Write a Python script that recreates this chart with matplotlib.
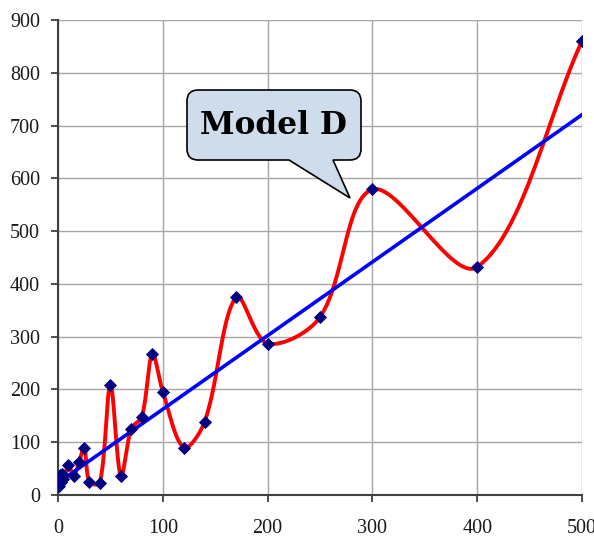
import numpy as np
import matplotlib
matplotlib.use("Agg")
import matplotlib.pyplot as plt
from matplotlib.path import Path
from matplotlib.patches import PathPatch

# measured points
x_vals = [1, 2, 3, 4, 5, 10, 15, 20, 25, 30, 40, 50, 60, 70, 80, 90, 100,
          120, 140, 170, 200, 250, 300, 400, 500]
y_vals = [18, 38, 25, 40, 30, 56, 36, 62, 90, 25, 23, 208, 36, 126, 148, 267, 196,
          90, 139, 375, 287, 337, 579, 432, 860]

# linear trend y = a*x + b
trend_slope = 1.395
trend_intercept = 23

x_ticks = [0, 100, 200, 300, 400, 500]
y_ticks = [0, 100, 200, 300, 400, 500, 600, 700, 800, 900]
callout_text = "Model D"

W, H = 594, 539
fig = plt.figure(figsize=(W / 100, H / 100), dpi=100)
ax = fig.add_axes([58 / W, 1 - 495 / H, 524 / W, 475 / H])
ax.set_xlim(0, 500)
ax.set_ylim(0, 900)


def smooth_curve(xs, ys, sx, sy, n=30):
    # bezier smoothing with tangents weighted by neighbouring segment lengths,
    # done in screen-like units so the shape does not depend on axis ranges
    p = np.column_stack([np.asarray(xs, float) * sx, np.asarray(ys, float) * sy])
    pts = np.vstack([p[0], p, p[-1]])
    out = []
    t = np.linspace(0, 1, n)[:, None]
    for i in range(1, len(pts) - 2):
        p0, p1, p2, p3 = pts[i - 1], pts[i], pts[i + 1], pts[i + 2]
        d01 = np.hypot(*(p1 - p0))
        d12 = np.hypot(*(p2 - p1))
        d23 = np.hypot(*(p3 - p2))
        k1 = d12 / (d01 + d12) / 3 if d01 + d12 > 0 else 0
        k2 = d12 / (d12 + d23) / 3 if d12 + d23 > 0 else 0
        c1 = p1 + (p2 - p0) * k1
        c2 = p2 - (p3 - p1) * k2
        seg = ((1 - t) ** 3) * p1 + 3 * ((1 - t) ** 2) * t * c1 \
            + 3 * (1 - t) * t ** 2 * c2 + t ** 3 * p2
        out.append(seg if i == 1 else seg[1:])
    out = np.vstack(out)
    return out[:, 0] / sx, out[:, 1] / sy


sx, sy = 524 / 500, 475 / 900
cx, cy = smooth_curve(x_vals, y_vals, sx, sy)
ax.plot(cx, cy, color="#FF0000", lw=2.8, zorder=3, solid_capstyle="round")

tx = np.array([x_vals[0], x_vals[-1]])
ax.plot(tx, trend_slope * tx + trend_intercept, color="#0000FF", lw=2.6, zorder=4)

ax.plot(x_vals, y_vals, linestyle="none", marker="D", markersize=6.0,
        color="#000080", markeredgecolor="#000080", markeredgewidth=0.6, zorder=5)

ax.set_xticks(x_ticks)
ax.set_yticks(y_ticks)
ax.grid(True, color="#A6A6A6", lw=1.0)
ax.set_axisbelow(True)
for s in ("top", "right"):
    ax.spines[s].set_visible(False)
for s in ("left", "bottom"):
    ax.spines[s].set_color("#404040")
    ax.spines[s].set_linewidth(1.5)
ax.tick_params(axis="y", direction="out", length=5, width=1.3, color="#404040", pad=8)
ax.tick_params(axis="x", direction="out", length=5, width=1.3, color="#404040", pad=12)
for lab in ax.get_xticklabels() + ax.get_yticklabels():
    lab.set_fontfamily("Liberation Serif")
    lab.set_fontsize(14.5)
    lab.set_color("#1a1a1a")

# callout bubble, in pixel units from the top-left corner
left, right, top, bottom, r = 187, 361, 90, 160, 11
tip = (350, 198)
base_l, base_r = 289, 333
pts = [
    (left + r, top), (right - r, top), (right, top), (right, top + r),
    (right, bottom - r), (right, bottom), (right - r, bottom),
    (base_r, bottom), tip, (base_l, bottom),
    (left + r, bottom), (left, bottom), (left, bottom - r),
    (left, top + r), (left, top), (left + r, top), (left + r, top),
]
codes = [
    Path.MOVETO, Path.LINETO, Path.CURVE3, Path.CURVE3,
    Path.LINETO, Path.CURVE3, Path.CURVE3,
    Path.LINETO, Path.LINETO, Path.LINETO,
    Path.LINETO, Path.CURVE3, Path.CURVE3,
    Path.LINETO, Path.CURVE3, Path.CURVE3, Path.CLOSEPOLY,
]
verts = [(px / W, 1 - py / H) for px, py in pts]
bubble = PathPatch(Path(verts, codes), transform=fig.transFigure,
                   facecolor="#CFDCEC", edgecolor="black", lw=1.2, zorder=10)
fig.add_artist(bubble)
fig.text(274 / W, 1 - 126 / H, callout_text, ha="center", va="center",
         fontsize=22.5, fontweight="bold", family="DejaVu Serif", zorder=11)

fig.savefig("out.png", dpi=100)
